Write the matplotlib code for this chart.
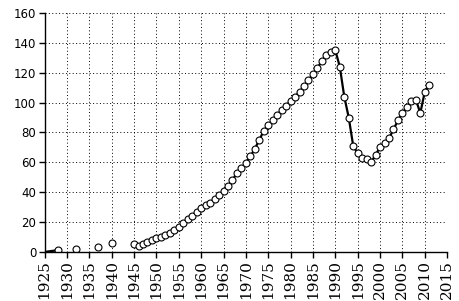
import numpy as np
import matplotlib.pyplot as plt

# early isolated readings (gaps shown as NaN)
lead_years = [1925, 1928]
lead_vals = [0.0, 1.2]
early_years = [1928, np.nan, 1932, np.nan, 1937, np.nan, 1940, np.nan]
early_vals = [1.2, np.nan, 2.0, np.nan, 3.6, np.nan, 5.8, np.nan]

years = list(range(1945, 2012))
values = [
    5.0, 3.8, 5.5, 6.8, 8.0, 9.0, 10.2, 11.5, 13.0, 15.0,
    17.0, 19.5, 22.0, 24.0, 27.0, 29.5, 31.5, 33.0, 35.5, 38.0,
    40.5, 44.0, 48.0, 53.0, 56.0, 59.5, 64.0, 69.0, 75.0, 81.0,
    85.0, 88.0, 91.5, 95.0, 98.0, 101.0, 104.0, 107.0, 111.0, 115.0,
    119.0, 123.0, 128.0, 132.0, 134.0, 135.0, 124.0, 104.0, 90.0, 71.0,
    66.0, 63.0, 62.0, 60.0, 65.0, 70.0, 73.0, 76.0, 82.0, 88.0,
    93.0, 97.0, 101.0, 102.0, 93.0, 107.0, 112.0,
]

x_ticks = list(range(1925, 2016, 5))
y_ticks = list(range(0, 161, 20))

fig = plt.figure(figsize=(4.6, 3.01), dpi=100)
ax = fig.add_axes([0.097, 0.163, 0.875, 0.794])

ax.plot(lead_years, lead_vals, '-', color='black', lw=1.6)
ax.plot(early_years + years, early_vals + values, '-', color='black', lw=1.6,
        marker='o', markersize=5, markerfacecolor='white',
        markeredgecolor='black', markeredgewidth=0.8)

ax.set_xlim(1925, 2015)
ax.set_ylim(0, 160)
ax.set_xticks(x_ticks)
ax.set_yticks(y_ticks)
ax.set_xticklabels([str(t) for t in x_ticks], rotation=90,
                   family='DejaVu Serif', fontsize=11)
ax.set_yticklabels([str(t) for t in y_ticks], family='DejaVu Sans', fontsize=8.5)

ax.grid(True, linestyle=(0, (1, 2.5)), color='black', lw=0.7)
ax.set_axisbelow(True)
for side in ['top', 'right']:
    ax.spines[side].set_visible(False)
for side in ['left', 'bottom']:
    ax.spines[side].set_linewidth(1.0)
ax.tick_params(direction='out', length=4, width=1, colors='black', pad=2)

fig.savefig('out.png', dpi=100)
